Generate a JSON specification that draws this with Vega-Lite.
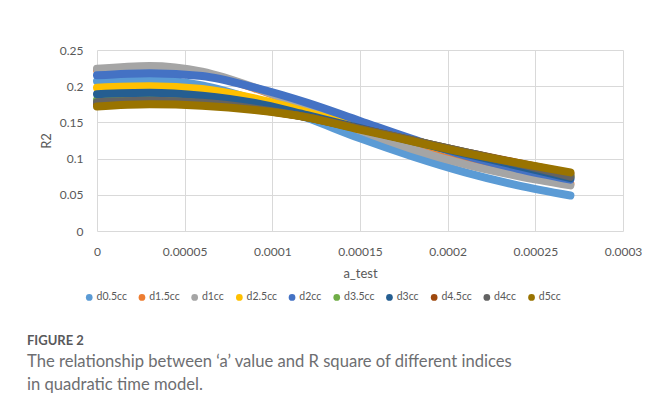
{
  "$schema": "https://vega.github.io/schema/vega-lite/v6.json",
  "width": 526,
  "height": 181,
  "autosize": "none",
  "padding": {"left": 97, "top": 50, "right": 26, "bottom": 184},
  "background": "white",
  "config": {
    "font": "Lato",
    "view": {"stroke": null},
    "axis": {
      "grid": true,
      "gridColor": "#D9D9D9",
      "gridWidth": 1,
      "domain": false,
      "ticks": false,
      "tickSize": 0,
      "labelColor": "#595959",
      "labelFontSize": 12,
      "labelFont": "Lato",
      "titleColor": "#595959",
      "titleFont": "Lato",
      "titleFontSize": 13,
      "titleFontWeight": "normal"
    }
  },
  "title": {
    "text": "FIGURE 2",
    "subtitle": ["The relationship between ‘a’ value and R square of different indices", "in quadratic time model."],
    "orient": "bottom",
    "anchor": "start",
    "frame": "group",
    "dx": -70,
    "offset": 32,
    "font": "Lato",
    "fontSize": 13,
    "fontWeight": "bold",
    "color": "#58595b",
    "subtitleFont": "Lato",
    "subtitleFontSize": 16.6,
    "subtitleColor": "#6d6e71",
    "subtitleLineHeight": 23,
    "subtitlePadding": 6
  },
  "data": {
    "values": [
      {"s": "d0.5cc", "a": 0, "r2": 0.207}, {"s": "d0.5cc", "a": 0.00003, "r2": 0.209}, {"s": "d0.5cc", "a": 0.00006, "r2": 0.201}, {"s": "d0.5cc", "a": 0.00009, "r2": 0.181}, {"s": "d0.5cc", "a": 0.00012, "r2": 0.156}, {"s": "d0.5cc", "a": 0.00015, "r2": 0.128}, {"s": "d0.5cc", "a": 0.00018, "r2": 0.103}, {"s": "d0.5cc", "a": 0.00021, "r2": 0.081}, {"s": "d0.5cc", "a": 0.00024, "r2": 0.063}, {"s": "d0.5cc", "a": 0.00027, "r2": 0.049},
      {"s": "d1.5cc", "a": 0, "r2": 0.222}, {"s": "d1.5cc", "a": 0.00003, "r2": 0.226}, {"s": "d1.5cc", "a": 0.00006, "r2": 0.218}, {"s": "d1.5cc", "a": 0.00009, "r2": 0.197}, {"s": "d1.5cc", "a": 0.00012, "r2": 0.170}, {"s": "d1.5cc", "a": 0.00015, "r2": 0.141}, {"s": "d1.5cc", "a": 0.00018, "r2": 0.115}, {"s": "d1.5cc", "a": 0.00021, "r2": 0.094}, {"s": "d1.5cc", "a": 0.00024, "r2": 0.078}, {"s": "d1.5cc", "a": 0.00027, "r2": 0.065},
      {"s": "d1cc", "a": 0, "r2": 0.224}, {"s": "d1cc", "a": 0.00003, "r2": 0.228}, {"s": "d1cc", "a": 0.00006, "r2": 0.220}, {"s": "d1cc", "a": 0.00009, "r2": 0.198}, {"s": "d1cc", "a": 0.00012, "r2": 0.169}, {"s": "d1cc", "a": 0.00015, "r2": 0.139}, {"s": "d1cc", "a": 0.00018, "r2": 0.113}, {"s": "d1cc", "a": 0.00021, "r2": 0.092}, {"s": "d1cc", "a": 0.00024, "r2": 0.076}, {"s": "d1cc", "a": 0.00027, "r2": 0.063},
      {"s": "d2.5cc", "a": 0, "r2": 0.198}, {"s": "d2.5cc", "a": 0.00003, "r2": 0.200}, {"s": "d2.5cc", "a": 0.00006, "r2": 0.196}, {"s": "d2.5cc", "a": 0.00009, "r2": 0.183}, {"s": "d2.5cc", "a": 0.00012, "r2": 0.164}, {"s": "d2.5cc", "a": 0.00015, "r2": 0.143}, {"s": "d2.5cc", "a": 0.00018, "r2": 0.124}, {"s": "d2.5cc", "a": 0.00021, "r2": 0.106}, {"s": "d2.5cc", "a": 0.00024, "r2": 0.089}, {"s": "d2.5cc", "a": 0.00027, "r2": 0.075},
      {"s": "d2cc", "a": 0, "r2": 0.215}, {"s": "d2cc", "a": 0.00003, "r2": 0.218}, {"s": "d2cc", "a": 0.00006, "r2": 0.214}, {"s": "d2cc", "a": 0.00009, "r2": 0.198}, {"s": "d2cc", "a": 0.00012, "r2": 0.177}, {"s": "d2cc", "a": 0.00015, "r2": 0.152}, {"s": "d2cc", "a": 0.00018, "r2": 0.127}, {"s": "d2cc", "a": 0.00021, "r2": 0.104}, {"s": "d2cc", "a": 0.00024, "r2": 0.086}, {"s": "d2cc", "a": 0.00027, "r2": 0.071},
      {"s": "d3.5cc", "a": 0, "r2": 0.181}, {"s": "d3.5cc", "a": 0.00003, "r2": 0.183}, {"s": "d3.5cc", "a": 0.00006, "r2": 0.180}, {"s": "d3.5cc", "a": 0.00009, "r2": 0.171}, {"s": "d3.5cc", "a": 0.00012, "r2": 0.157}, {"s": "d3.5cc", "a": 0.00015, "r2": 0.141}, {"s": "d3.5cc", "a": 0.00018, "r2": 0.125}, {"s": "d3.5cc", "a": 0.00021, "r2": 0.109}, {"s": "d3.5cc", "a": 0.00024, "r2": 0.093}, {"s": "d3.5cc", "a": 0.00027, "r2": 0.077},
      {"s": "d3cc", "a": 0, "r2": 0.189}, {"s": "d3cc", "a": 0.00003, "r2": 0.191}, {"s": "d3cc", "a": 0.00006, "r2": 0.187}, {"s": "d3cc", "a": 0.00009, "r2": 0.177}, {"s": "d3cc", "a": 0.00012, "r2": 0.160}, {"s": "d3cc", "a": 0.00015, "r2": 0.142}, {"s": "d3cc", "a": 0.00018, "r2": 0.124}, {"s": "d3cc", "a": 0.00021, "r2": 0.107}, {"s": "d3cc", "a": 0.00024, "r2": 0.090}, {"s": "d3cc", "a": 0.00027, "r2": 0.073},
      {"s": "d4.5cc", "a": 0, "r2": 0.175}, {"s": "d4.5cc", "a": 0.00003, "r2": 0.178}, {"s": "d4.5cc", "a": 0.00006, "r2": 0.176}, {"s": "d4.5cc", "a": 0.00009, "r2": 0.168}, {"s": "d4.5cc", "a": 0.00012, "r2": 0.157}, {"s": "d4.5cc", "a": 0.00015, "r2": 0.141}, {"s": "d4.5cc", "a": 0.00018, "r2": 0.125}, {"s": "d4.5cc", "a": 0.00021, "r2": 0.109}, {"s": "d4.5cc", "a": 0.00024, "r2": 0.094}, {"s": "d4.5cc", "a": 0.00027, "r2": 0.079},
      {"s": "d4cc", "a": 0, "r2": 0.178}, {"s": "d4cc", "a": 0.00003, "r2": 0.180}, {"s": "d4cc", "a": 0.00006, "r2": 0.177}, {"s": "d4cc", "a": 0.00009, "r2": 0.169}, {"s": "d4cc", "a": 0.00012, "r2": 0.157}, {"s": "d4cc", "a": 0.00015, "r2": 0.141}, {"s": "d4cc", "a": 0.00018, "r2": 0.125}, {"s": "d4cc", "a": 0.00021, "r2": 0.109}, {"s": "d4cc", "a": 0.00024, "r2": 0.093}, {"s": "d4cc", "a": 0.00027, "r2": 0.075},
      {"s": "d5cc", "a": 0, "r2": 0.172}, {"s": "d5cc", "a": 0.00003, "r2": 0.175}, {"s": "d5cc", "a": 0.00006, "r2": 0.173}, {"s": "d5cc", "a": 0.00009, "r2": 0.167}, {"s": "d5cc", "a": 0.00012, "r2": 0.157}, {"s": "d5cc", "a": 0.00015, "r2": 0.140}, {"s": "d5cc", "a": 0.00018, "r2": 0.124}, {"s": "d5cc", "a": 0.00021, "r2": 0.108}, {"s": "d5cc", "a": 0.00024, "r2": 0.094}, {"s": "d5cc", "a": 0.00027, "r2": 0.081}
    ]
  },
  "mark": {"type": "line", "strokeWidth": 8, "strokeCap": "round", "strokeJoin": "round", "interpolate": "monotone"},
  "encoding": {
    "x": {
      "field": "a", "type": "quantitative",
      "scale": {"domain": [0, 0.0003], "nice": false},
      "axis": {"title": "a_test", "values": [0, 0.00005, 0.0001, 0.00015, 0.0002, 0.00025, 0.0003], "format": ".5~f", "labelPadding": 15, "titlePadding": 10, "labelFlush": false}
    },
    "y": {
      "field": "r2", "type": "quantitative",
      "scale": {"domain": [0, 0.25], "nice": false},
      "axis": {"title": "R2", "values": [0, 0.05, 0.1, 0.15, 0.2, 0.25], "format": ".2~f", "labelPadding": 14, "titlePadding": 6}
    },
    "color": {
      "field": "s", "type": "nominal",
      "scale": {
        "domain": ["d0.5cc", "d1.5cc", "d1cc", "d2.5cc", "d2cc", "d3.5cc", "d3cc", "d4.5cc", "d4cc", "d5cc"],
        "range": ["#5B9BD5", "#ED7D31", "#A5A5A5", "#FFC000", "#4472C4", "#70AD47", "#255E91", "#9E480E", "#636363", "#997300"]
      },
      "legend": {
        "title": null,
        "orient": "none",
        "direction": "horizontal",
        "legendX": -13,
        "legendY": 242,
        "symbolType": "circle",
        "symbolSize": 45,
        "symbolStrokeWidth": 0,
        "labelFont": "Lato",
        "labelFontSize": 10.5,
        "labelColor": "#595959",
        "labelOffset": 2,
        "columnPadding": 9.7,
        "encode": {"symbols": {"update": {"fill": {"scale": "color", "field": "value"}, "stroke": {"value": "transparent"}}}}
      }
    }
  }
}
